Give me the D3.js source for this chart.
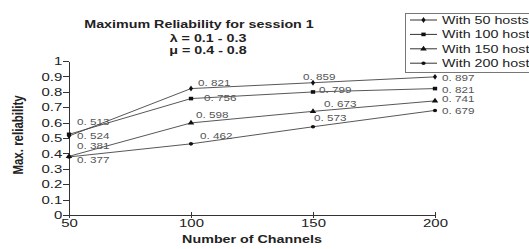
<!DOCTYPE html>
<html>
<head>
<meta charset="utf-8">
<script src="https://cdn.jsdelivr.net/npm/d3@7"></script>
<style>
    body { margin: 0; background: #fff; }
    svg { display: block; }
    text { font-family: "Liberation Sans", Arial, sans-serif; fill: #222; }
    .axis path, .axis line { stroke: #333; shape-rendering: crispEdges; }
    .series { fill: none; stroke: #444; stroke-width: 0.9; }
    .vlabel { font-size: 9px; fill: #555; }
</style>
</head>
<body>
<script>
    // data
    var channels = [50, 100, 150, 200];
    var seriesNames = ["With 50 hosts", "With 100 hosts", "With 150 hosts", "With 200 hosts"];
    var hosts50 = [0.513, 0.821, 0.859, 0.897];
    var hosts100 = [0.524, 0.756, 0.799, 0.821];
    var hosts150 = [0.381, 0.598, 0.673, 0.741];
    var hosts200 = [0.377, 0.462, 0.573, 0.679];
    var yTicks = [0, 0.1, 0.2, 0.3, 0.4, 0.5, 0.6, 0.7, 0.8, 0.9, 1];

    var allSeries = [hosts50, hosts100, hosts150, hosts200];
    var symbols = [d3.symbolDiamond, d3.symbolSquare, d3.symbolTriangle, d3.symbolCircle];
    var symbolSizes = [10, 13, 13, 10];

    // label nudges (px) relative to each point, so they sit like the original
    var labelNudge = [
        [[8, -14], [7, -6], [-10, -6], [7, 1]],
        [[8, 2], [13, -1], [6, -2], [7, 1]],
        [[8, -10], [5, -8], [11, -8], [7, -2]],
        [[8, 3], [9, -8], [1, -9], [7, 0]]
    ];

    var sx = 1.3; // text in the original is stretched sideways

    var W = 529, H = 249;
    var margin = {top: 61, left: 69, right: 94, bottom: 34};

    var svg = d3.select("body").append("svg")
        .attr("width", W)
        .attr("height", H);

    var x = d3.scaleLinear().domain([50, 200]).range([margin.left, W - margin.right]);
    var y = d3.scaleLinear().domain([0, 1]).range([H - margin.bottom, margin.top]);

    function stretchedText(sel, px, py) {
        return sel.attr("transform", "translate(" + px + "," + py + ") scale(" + sx + ",1)");
    }

    // x axis
    var xAxis = svg.append("g")
        .attr("class", "axis")
        .attr("transform", "translate(0," + y(0) + ")")
        .call(d3.axisBottom(x).tickValues(channels).tickSize(3).tickPadding(1).tickSizeOuter(0));
    xAxis.selectAll(".tick line").attr("y1", -3);
    xAxis.selectAll(".tick text")
        .attr("font-size", "11.5px")
        .attr("fill", "#222")
        .attr("transform", "scale(" + sx + ",1)");
    xAxis.attr("font-family", null);

    // y axis
    var yAxis = svg.append("g")
        .attr("class", "axis")
        .attr("transform", "translate(" + x(50) + ",0)")
        .call(d3.axisLeft(y).tickValues(yTicks).tickFormat(function (d) { return String(d); }).tickSize(6).tickSizeOuter(0));
    yAxis.selectAll(".tick text")
        .attr("font-size", "11.5px")
        .attr("fill", "#222")
        .attr("x", -5.2)
        .attr("transform", "scale(" + sx + ",1)");
    yAxis.attr("font-family", null);

    // lines
    var line = d3.line()
        .x(function (d, i) { return x(channels[i]); })
        .y(function (d) { return y(d); });

    svg.selectAll(".series")
        .data(allSeries)
        .enter()
        .append("path")
        .attr("class", "series")
        .attr("d", line);

    // markers and value labels
    allSeries.forEach(function (vals, s) {
        var g = svg.append("g");
        g.selectAll("path")
            .data(vals)
            .enter()
            .append("path")
            .attr("d", d3.symbol().type(symbols[s]).size(symbolSizes[s]))
            .attr("transform", function (d, i) {
                return "translate(" + x(channels[i]) + "," + y(d) + ") scale(1.2,1)";
            })
            .attr("fill", "#111");

        g.selectAll("text")
            .data(vals)
            .enter()
            .append("text")
            .attr("class", "vlabel")
            .attr("dy", "0.35em")
            .text(function (d) { return d3.format(".3f")(d).replace(".", ". "); })
            .each(function (d, i) {
                stretchedText(d3.select(this),
                    x(channels[i]) + labelNudge[s][i][0],
                    y(d) + labelNudge[s][i][1]);
            });
    });

    // titles
    stretchedText(svg.append("text"), 199, 28)
        .attr("text-anchor", "middle")
        .attr("font-size", "11px")
        .attr("font-weight", "bold")
        .text("Maximum Reliability for session 1");
    stretchedText(svg.append("text"), 208, 42)
        .attr("text-anchor", "middle")
        .attr("font-size", "11px")
        .attr("font-weight", "bold")
        .text("λ = 0.1 - 0.3");
    stretchedText(svg.append("text"), 208, 54)
        .attr("text-anchor", "middle")
        .attr("font-size", "11px")
        .attr("font-weight", "bold")
        .text("μ = 0.4 - 0.8");

    // axis titles
    stretchedText(svg.append("text"), 252, 243)
        .attr("text-anchor", "middle")
        .attr("font-size", "11px")
        .attr("font-weight", "bold")
        .text("Number of Channels");

    svg.append("text")
        .attr("transform", "translate(23,135) scale(" + sx + ",1) rotate(-90)")
        .attr("text-anchor", "middle")
        .attr("font-size", "11.5px")
        .attr("font-weight", "bold")
        .text("Max. reliability");

    // legend
    var legend = svg.append("g").attr("transform", "translate(405,13)");
    legend.append("rect")
        .attr("x", 0.5).attr("y", 0.5)
        .attr("width", 140).attr("height", 59)
        .attr("fill", "#fff")
        .attr("stroke", "#777");

    var item = legend.selectAll(".item")
        .data(seriesNames)
        .enter()
        .append("g")
        .attr("transform", function (d, i) { return "translate(0," + (7 + i * 14.4) + ")"; });

    item.append("line")
        .attr("x1", 5).attr("x2", 32)
        .attr("stroke", "#333");
    item.append("path")
        .attr("d", function (d, i) { return d3.symbol().type(symbols[i]).size(symbolSizes[i])(); })
        .attr("transform", "translate(18.5,0) scale(1.2,1)")
        .attr("fill", "#111");
    item.append("text")
        .attr("dy", "0.35em")
        .attr("font-size", "11px")
        .attr("transform", "translate(37,0) scale(" + sx + ",1)")
        .text(function (d) { return d; });
</script>
</body>
</html>
